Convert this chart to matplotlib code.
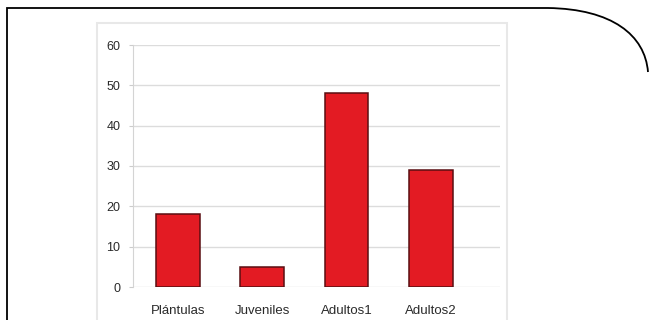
import matplotlib.pyplot as plt
from matplotlib.patches import Rectangle, PathPatch
from matplotlib.path import Path

categories = ['Plántulas', 'Juveniles', 'Adultos1', 'Adultos2']
values = [18, 5, 48, 29]
yticks = [0, 10, 20, 30, 40, 50, 60]

plt.rcParams['font.family'] = ['Liberation Sans', 'DejaVu Sans']

W, H = 649, 320
fig = plt.figure(figsize=(W / 100, H / 100), dpi=100, facecolor='white')


def fx(px):
    return px / W


def fy(py):
    return 1 - py / H


# outer black frame with rounded top-right corner
verts = [(fx(7), fy(330)), (fx(7), fy(8)), (fx(548), fy(8)),
         (fx(612), fy(9)), (fx(645), fy(35)), (fx(648), fy(72))]
codes = [Path.MOVETO, Path.LINETO, Path.LINETO,
         Path.CURVE4, Path.CURVE4, Path.CURVE4]
fig.patches.append(PathPatch(Path(verts, codes), transform=fig.transFigure,
                             fill=False, edgecolor='black', lw=1.3))

# light grey chart frame
fig.patches.append(Rectangle((fx(97), fy(330)), fx(507) - fx(97), fy(23) - fy(330),
                             transform=fig.transFigure, fill=False,
                             edgecolor='#e8e8e8', lw=1.5))

ax = fig.add_axes([fx(133), fy(287), fx(500) - fx(133), fy(45) - fy(287)])
ax.set_facecolor('none')

x = list(range(len(categories)))
ax.bar(x, values, width=0.52, color='#e31b23', edgecolor='#5a0e12', lw=1.1, zorder=3)

ax.set_ylim(0, 60)
ax.set_xlim(-0.53, 3.82)
ax.set_yticks(yticks)
ax.set_xticks(x)
ax.set_xticklabels(categories, fontsize=9.5, color='#2a2a2a')
ax.tick_params(axis='x', bottom=False, pad=9.5)
ax.tick_params(axis='y', labelsize=9, labelcolor='#2a2a2a', length=3,
               color='#cccccc', pad=6)
ax.grid(axis='y', color='#dcdcdc', lw=1.0, zorder=0)

for s in ['top', 'right', 'bottom']:
    ax.spines[s].set_visible(False)
ax.spines['left'].set_color('#d4d4d4')

fig.savefig('out.png', dpi=100, facecolor='white')
